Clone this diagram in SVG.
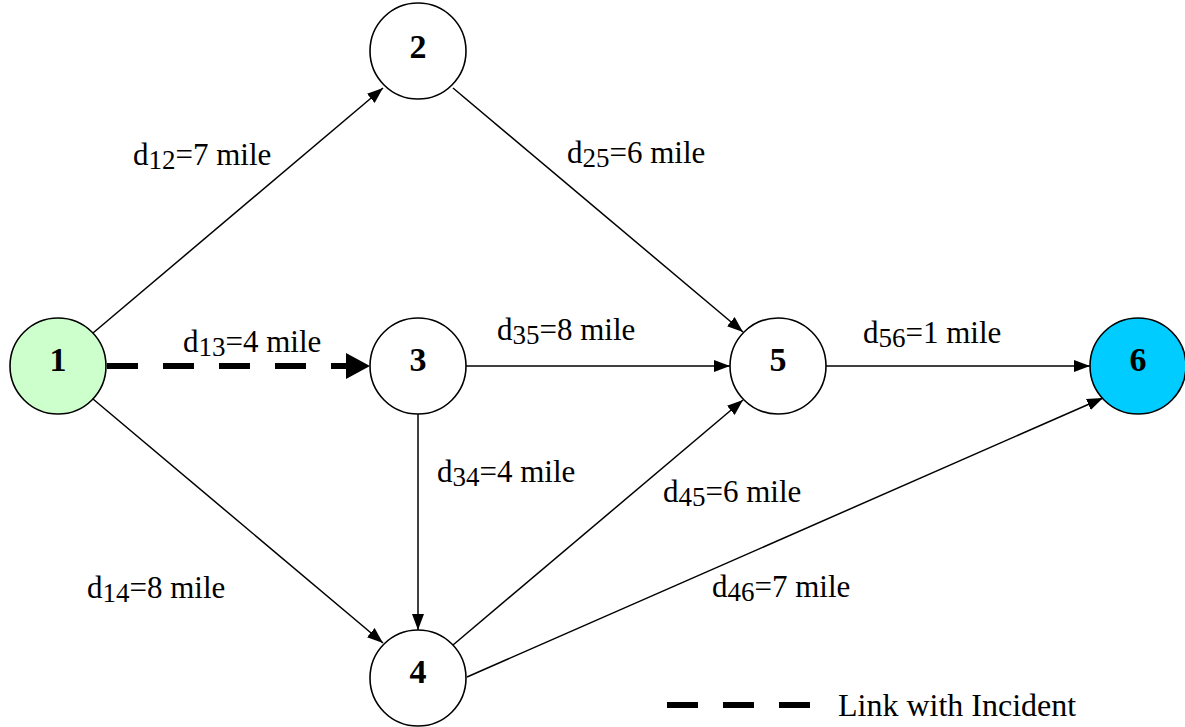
<svg xmlns="http://www.w3.org/2000/svg" width="1185" height="727" viewBox="0 0 1185 727">
<style>
.node{stroke:#000;stroke-width:1.6}
.nl{font-family:"Liberation Serif","Times New Roman",serif;font-size:34px;font-weight:bold;text-anchor:middle}
.el{font-family:"Liberation Serif","Times New Roman",serif;font-size:31px}
.sub{font-size:27px}
.lg{font-family:"Liberation Serif","Times New Roman",serif;font-size:32px}
.edge{stroke:#000;stroke-width:1.5;fill:none;marker-end:url(#arr)}
.dash{stroke:#000;stroke-width:6;fill:none;stroke-dasharray:31 25}
</style>
<defs>
<marker id="arr" markerUnits="userSpaceOnUse" markerWidth="16" markerHeight="12" refX="16" refY="6" orient="auto">
<path d="M0,0 L16,6 L0,12 z" fill="#000"/>
</marker>
</defs>
<rect width="1185" height="727" fill="#fff"/>
<g id="connectors">
<line class="edge" x1="93" y1="333" x2="383" y2="88"/>
<line class="edge" x1="453" y1="88" x2="743" y2="332"/>
<line class="dash" x1="107" y1="366" x2="350" y2="366"/>
<polygon points="346,353 370,366 346,379" fill="#000"/>
<line class="edge" x1="466" y1="366" x2="730" y2="366"/>
<line class="edge" x1="826" y1="366" x2="1090" y2="366"/>
<line class="edge" x1="93" y1="399" x2="383" y2="643"/>
<line class="edge" x1="418" y1="414" x2="418" y2="630"/>
<line class="edge" x1="453" y1="645" x2="743" y2="400"/>
<line class="edge" x1="467" y1="677" x2="1103" y2="398"/>
</g>
<g id="edge-labels">
<text class="el" x="133" y="165">d<tspan class="sub" dy="4">12</tspan><tspan dy="-4">=7 mile</tspan></text>
<text class="el" x="567" y="163">d<tspan class="sub" dy="4">25</tspan><tspan dy="-4">=6 mile</tspan></text>
<text class="el" x="183" y="352">d<tspan class="sub" dy="4">13</tspan><tspan dy="-4">=4 mile</tspan></text>
<text class="el" x="497" y="340">d<tspan class="sub" dy="4">35</tspan><tspan dy="-4">=8 mile</tspan></text>
<text class="el" x="863" y="343">d<tspan class="sub" dy="4">56</tspan><tspan dy="-4">=1 mile</tspan></text>
<text class="el" x="437" y="482">d<tspan class="sub" dy="4">34</tspan><tspan dy="-4">=4 mile</tspan></text>
<text class="el" x="663" y="502">d<tspan class="sub" dy="4">45</tspan><tspan dy="-4">=6 mile</tspan></text>
<text class="el" x="87" y="598">d<tspan class="sub" dy="4">14</tspan><tspan dy="-4">=8 mile</tspan></text>
<text class="el" x="712" y="597">d<tspan class="sub" dy="4">46</tspan><tspan dy="-4">=7 mile</tspan></text>
</g>
<g id="node1"><circle class="node" cx="58" cy="366" r="48" fill="#ccffcc"/><text class="nl" x="58" y="371">1</text></g>
<g id="node2"><circle class="node" cx="418" cy="51" r="48" fill="#fff"/><text class="nl" x="418" y="58">2</text></g>
<g id="node3"><circle class="node" cx="418" cy="366" r="48" fill="#fff"/><text class="nl" x="418" y="371">3</text></g>
<g id="node4"><circle class="node" cx="418" cy="678" r="48" fill="#fff"/><text class="nl" x="418" y="683">4</text></g>
<g id="node5"><circle class="node" cx="778" cy="366" r="48" fill="#fff"/><text class="nl" x="778" y="371">5</text></g>
<g id="node6"><circle class="node" cx="1138" cy="366" r="48" fill="#00ccff"/><text class="nl" x="1138" y="371">6</text></g>
<g id="legend">
<line class="dash" x1="667" y1="705" x2="810" y2="705"/>
<text class="lg" x="838" y="716">Link with Incident</text>
</g>
</svg>
